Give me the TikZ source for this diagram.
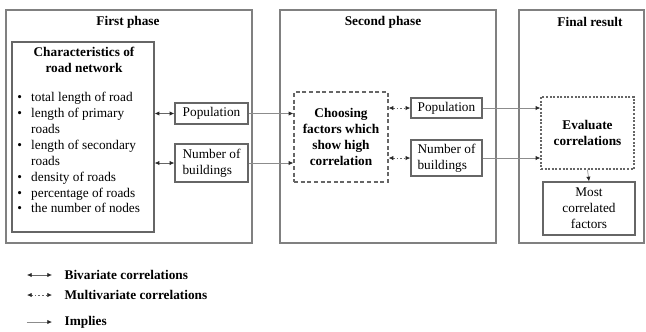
\documentclass[tikz,border=0pt]{standalone}
\usepackage{fontspec}
\setmainfont{Liberation Serif}
\usetikzlibrary{arrows.meta, positioning}

\begin{document}
\begin{tikzpicture}[
    phase/.style = {
        rectangle,
        draw=black!50,
        line width=0.9pt
    },
    box/.style = {
        rectangle,
        draw=black!60,
        line width=1pt,
        align=center,
        inner sep=1pt,
        font=\fontsize{10}{12}\selectfont
    },
    dashbox/.style = {box, dash pattern=on 3pt off 2pt},
    dotbox/.style = {box, dash pattern=on 1.5pt off 1.2pt},
    head/.style = {font=\fontsize{10}{12}\selectfont\bfseries, align=center},
    tip/.tip = {Latex[length=3.5pt, width=3.2pt, color=black!85]},
    bivar/.style = {line width=0.5pt, draw=black!60, tip-tip},
    multivar/.style = {bivar, dash pattern=on 1.2pt off 1.5pt},
    implies/.style = {line width=0.5pt, draw=black!45, -tip},
    legend/.style = {anchor=west, font=\fontsize{10}{12}\selectfont\bfseries}
]

    \useasboundingbox (0,0) rectangle (17.092,8.758);

    % === PHASES ===
    \node[phase, minimum width=6.509cm, minimum height=6.165cm] (phase1) at (3.413,5.411) {};
    \node[phase, minimum width=5.715cm, minimum height=6.165cm] (phase2) at (10.266,5.411) {};
    \node[phase, minimum width=3.307cm, minimum height=6.165cm] (phase3) at (15.385,5.411) {};

    \node[head] (title1) at (3.387,8.175) {First phase};
    \node[head] (title2) at (10.133,8.175) {Second phase};
    \node[head] (title3) at (15.610,8.175) {Final result};

    % === FIRST PHASE ===
    \node[box, minimum width=3.757cm, minimum height=5.027cm] (chars) at (2.196,5.133) {};
    \node[head] (charshead) at (2.222,7.183) {Characteristics of\\road network};
    \node[anchor=west, inner sep=0pt, font=\fontsize{10}{12}\selectfont] (charslist) at (0.450,4.683) {
        \begin{tabular}{@{}l@{\hspace{7pt}}l@{}}
            \textbullet & total length of road\\
            \textbullet & length of primary\\
                        & roads\\
            \textbullet & length of secondary\\
                        & roads\\
            \textbullet & density of roads\\
            \textbullet & percentage of roads\\
            \textbullet & the number of nodes
        \end{tabular}
    };

    \node[box, minimum width=1.931cm, minimum height=0.556cm] (pop1) at (5.596,5.755) {Population};
    \node[box, align=left, minimum width=1.931cm, minimum height=1.005cm] (bld1) at (5.596,4.445) {Number of\\buildings};

    % === SECOND PHASE ===
    \node[box, dashbox, font=\fontsize{10}{12}\selectfont\bfseries, minimum width=2.487cm, minimum height=2.381cm] (choose) at (9.022,5.133) {Choosing\\factors which\\show high\\correlation};

    \node[box, minimum width=1.879cm, minimum height=0.529cm] (pop2) at (11.813,5.900) {Population};
    \node[box, align=left, minimum width=1.879cm, minimum height=0.952cm] (bld2) at (11.813,4.577) {Number of\\buildings};

    % === FINAL RESULT ===
    \node[box, dotbox, font=\fontsize{10}{12}\selectfont\bfseries, minimum width=2.461cm, minimum height=1.905cm] (eval) at (15.544,5.239) {Evaluate\\correlations};
    \node[box, minimum width=2.434cm, minimum height=1.402cm] (most) at (15.584,3.241) {Most\\correlated\\factors};

    % === CONNECTIONS ===
    \draw[bivar] (chars.east |- pop1.west) -- (pop1.west);
    \draw[bivar] (chars.east |- bld1.west) -- (bld1.west);
    \draw[implies] (pop1.east) -- (pop1.east -| choose.west);
    \draw[implies] (bld1.east) -- (bld1.east -| choose.west);
    \draw[multivar] (choose.east |- pop2.west) -- (pop2.west);
    \draw[multivar] (choose.east |- bld2.west) -- (bld2.west);
    \draw[implies] (pop2.east) -- (pop2.east -| eval.west);
    \draw[implies] (bld2.east) -- (bld2.east -| eval.west);
    \draw[implies] (eval.south) -- (most.north);

    % === LEGEND ===
    \coordinate (bivA) at (0.714,1.482);
    \coordinate (bivB) at (1.376,1.482);
    \coordinate (mulA) at (0.714,0.952);
    \coordinate (mulB) at (1.376,0.952);
    \coordinate (impA) at (0.714,0.238);
    \coordinate (impB) at (1.376,0.238);

    \draw[bivar] (bivA) -- (bivB);
    \draw[multivar] (mulA) -- (mulB);
    \draw[implies] (impA) -- (impB);

    \node[legend] (bivtext) at (1.587,1.482) {Bivariate correlations};
    \node[legend] (multext) at (1.587,0.952) {Multivariate correlations};
    \node[legend] (imptext) at (1.587,0.238) {Implies};

\end{tikzpicture}
\end{document}
